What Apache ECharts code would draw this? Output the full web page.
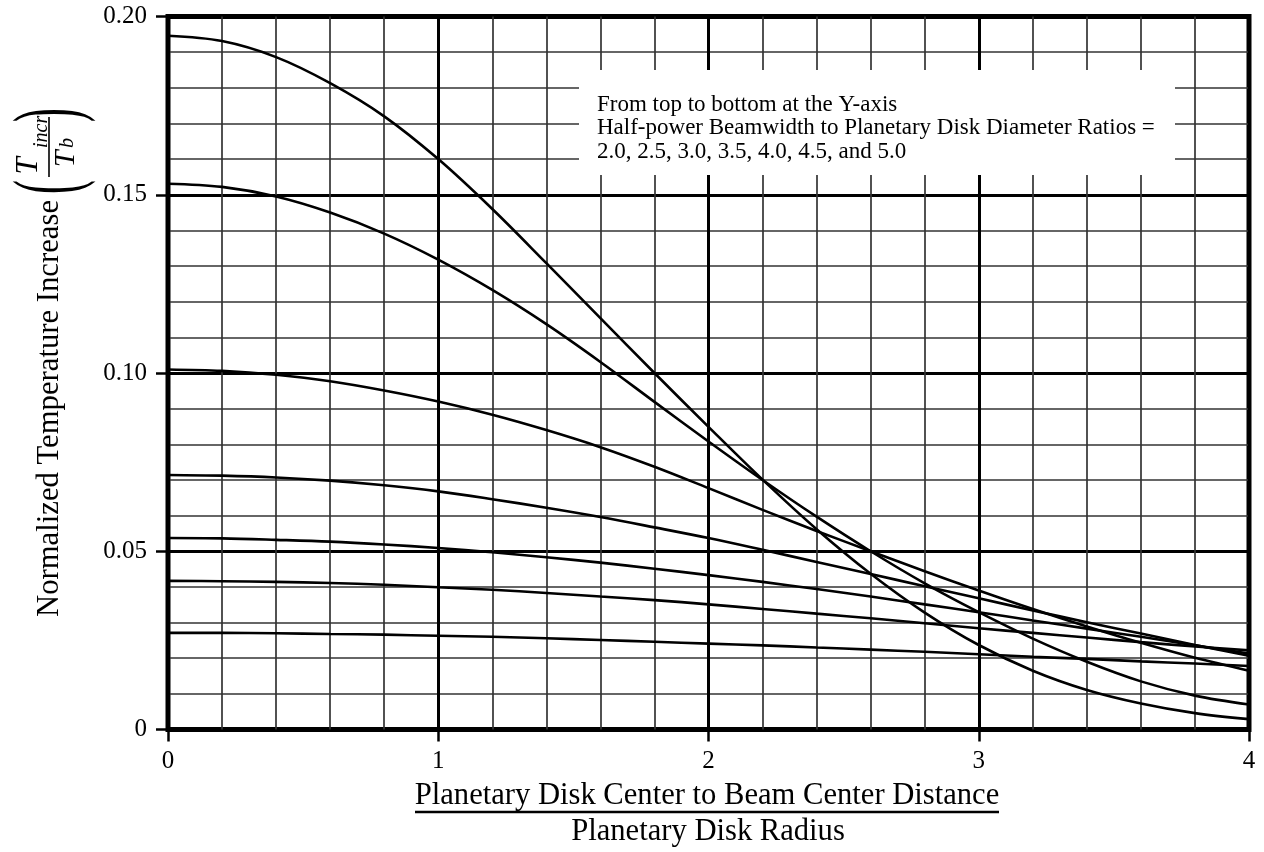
<!DOCTYPE html>
<html>
<head>
<meta charset="utf-8">
<script src="https://cdn.jsdelivr.net/npm/echarts@6/dist/echarts.min.js"></script>
<style>
  html, body { margin: 0; padding: 0; background: #fff; }
  #chart { width: 1264px; height: 852px; }
</style>
</head>
<body>
<div id="chart"></div>
<script>
// Offset of beam centre from disk centre, in disk radii
const distance = [0, 0.2, 0.4, 0.6, 0.8, 1.0, 1.2, 1.4, 1.6, 1.8, 2.0,
                  2.2, 2.4, 2.6, 2.8, 3.0, 3.2, 3.4, 3.6, 3.8, 4.0];

// Half-power beamwidth / disk diameter ratio of each curve
const ratios = ['2.0', '2.5', '3.0', '3.5', '4.0', '4.5', '5.0'];

// Normalized temperature increase Tincr/Tb for each ratio
const ratio20 = [0.1946, 0.1931, 0.1886, 0.1813, 0.1720, 0.1600, 0.1460, 0.1308, 0.1154, 0.1000, 0.0849,
                 0.0701, 0.0562, 0.0437, 0.0328, 0.0237, 0.0165, 0.0111, 0.0073, 0.0046, 0.0029];
const ratio25 = [0.1531, 0.1522, 0.1495, 0.1450, 0.1391, 0.1318, 0.1233, 0.1137, 0.1031, 0.0919, 0.0808,
                 0.0700, 0.0597, 0.0500, 0.0410, 0.0329, 0.0255, 0.0190, 0.0135, 0.0095, 0.0070];
const ratio30 = [0.1010, 0.1006, 0.0995, 0.0977, 0.0951, 0.0920, 0.0883, 0.0840, 0.0792, 0.0737, 0.0677,
                 0.0616, 0.0557, 0.0500, 0.0444, 0.0390, 0.0338, 0.0289, 0.0243, 0.0201, 0.0165];
const ratio35 = [0.0714, 0.0712, 0.0707, 0.0698, 0.0685, 0.0668, 0.0646, 0.0622, 0.0596, 0.0567, 0.0537,
                 0.0504, 0.0470, 0.0436, 0.0402, 0.0368, 0.0334, 0.0301, 0.0269, 0.0237, 0.0207];
const ratio40 = [0.0537, 0.0536, 0.0532, 0.0527, 0.0519, 0.0509, 0.0497, 0.0483, 0.0468, 0.0451, 0.0433,
                 0.0414, 0.0394, 0.0373, 0.0351, 0.0329, 0.0306, 0.0283, 0.0260, 0.0236, 0.0213];
const ratio45 = [0.0417, 0.0416, 0.0414, 0.0411, 0.0406, 0.0399, 0.0392, 0.0383, 0.0373, 0.0363, 0.0351,
                 0.0338, 0.0325, 0.0312, 0.0298, 0.0284, 0.0271, 0.0258, 0.0245, 0.0233, 0.0222];
const ratio50 = [0.0271, 0.0271, 0.0270, 0.0268, 0.0266, 0.0263, 0.0260, 0.0256, 0.0251, 0.0246, 0.0241,
                 0.0236, 0.0230, 0.0224, 0.0218, 0.0211, 0.0204, 0.0198, 0.0191, 0.0185, 0.0178];

const curves = [ratio20, ratio25, ratio30, ratio35, ratio40, ratio45, ratio50];

// Axis tick labels
const xTickLabels = ['0', '1', '2', '3', '4'];
const yTickLabels = ['0', '0.05', '0.10', '0.15', '0.20'];

const SERIF = '"Liberation Serif", "Times New Roman", Times, serif';

const noteLines = [
  'From top to bottom at the Y-axis',
  'Half-power Beamwidth to Planetary Disk Diameter Ratios =',
  '2.0, 2.5, 3.0, 3.5, 4.0, 4.5, and 5.0'
];

const chart = echarts.init(document.getElementById('chart'), null, { renderer: 'canvas' });

const series = curves.map((vals, i) => ({
  name: 'Ratio ' + ratios[i],
  type: 'line',
  data: distance.map((d, k) => [d, vals[k]]),
  smooth: 0.35,
  showSymbol: false,
  symbol: 'none',
  lineStyle: { color: '#000', width: 2.6 },
  z: 5,
  silent: true
}));

const txt = (text, x, y, font, align, valign, extra) => Object.assign({
  type: 'text', x: x, y: y,
  style: { text: text, font: font, fill: '#000', textAlign: align, textVerticalAlign: valign }
}, extra || {});

const option = {
  animation: false,
  backgroundColor: '#fff',
  grid: {
    left: 168, top: 16.5, width: 1081, height: 713,
    show: true, borderColor: '#000', borderWidth: 5, backgroundColor: 'transparent'
  },
  xAxis: {
    type: 'value', min: 0, max: 4, interval: 1,
    axisLine: { show: false },
    axisTick: { show: true, length: 12, lineStyle: { color: '#000', width: 2.5 } },
    axisLabel: {
      margin: 19, color: '#000', fontSize: 25, fontFamily: SERIF,
      formatter: v => xTickLabels[Math.round(v)]
    },
    splitLine: { show: true, lineStyle: { color: '#000', width: 3 } },
    minorTick: { show: false, splitNumber: 5 },
    minorSplitLine: { show: true, lineStyle: { color: '#333', width: 1.7 } }
  },
  yAxis: {
    type: 'value', min: 0, max: 0.2, interval: 0.05,
    axisLine: { show: false },
    axisTick: { show: true, length: 12, lineStyle: { color: '#000', width: 2.5 } },
    axisLabel: {
      margin: 21, color: '#000', fontSize: 25, fontFamily: SERIF,
      formatter: v => yTickLabels[Math.round(v / 0.05)]
    },
    splitLine: { show: true, lineStyle: { color: '#000', width: 3 } },
    minorTick: { show: false, splitNumber: 5 },
    minorSplitLine: { show: true, lineStyle: { color: '#333', width: 1.7 } }
  },
  series: series,
  graphic: [
    // note box blanking the grid behind it
    { type: 'rect', z: 20, shape: { x: 579, y: 70, width: 596, height: 105 }, style: { fill: '#fff' } },
    txt(noteLines[0], 597, 116, '23px ' + SERIF, 'left', 'bottom', { z: 21 }),
    txt(noteLines[1], 597, 139.5, '23px ' + SERIF, 'left', 'bottom', { z: 21 }),
    txt(noteLines[2], 597, 163, '23px ' + SERIF, 'left', 'bottom', { z: 21 }),

    // x axis title as a fraction
    txt('Planetary Disk Center to Beam Center Distance', 707, 796, '30.6px ' + SERIF, 'center', 'middle', { z: 21 }),
    { type: 'line', z: 21, shape: { x1: 415, y1: 812, x2: 999, y2: 812 }, style: { stroke: '#000', lineWidth: 2.5 } },
    txt('Planetary Disk Radius', 708, 832, '30.6px ' + SERIF, 'center', 'middle', { z: 21 }),

    // y axis title, rotated to read upwards
    {
      type: 'group', x: 50, y: 617, rotation: Math.PI / 2, z: 21,
      children: [
        txt('Normalized Temperature Increase', 0, 0, '30.7px ' + SERIF, 'left', 'middle'),
        txt('(', 430, 2, '92px ' + SERIF, 'center', 'middle', { scaleX: 0.45 }),
        txt('T', 451, -21, 'italic 31px ' + SERIF, 'center', 'middle'),
        txt('incr', 469, -8, 'italic 20px ' + SERIF, 'left', 'middle'),
        { type: 'line', shape: { x1: 440, y1: -1, x2: 500, y2: -1 }, style: { stroke: '#000', lineWidth: 1.6 } },
        txt('T', 458, 16, 'italic 30px ' + SERIF, 'center', 'middle'),
        txt('b', 469, 18, 'italic 20px ' + SERIF, 'left', 'middle'),
        txt(')', 502, 2, '92px ' + SERIF, 'center', 'middle', { scaleX: 0.45 })
      ]
    }
  ]
};

chart.setOption(option);
</script>
</body>
</html>
